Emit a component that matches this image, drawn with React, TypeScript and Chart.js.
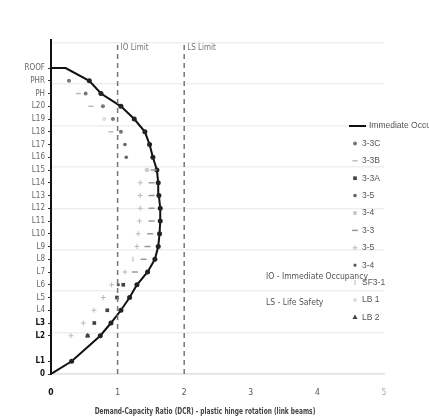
import React, { useEffect, useRef } from 'react';
import { Chart, registerables } from 'chart.js';
import { drawPoint } from 'chart.js/helpers';

Chart.register(...registerables);

// ---------- data ----------
const storyLabels = ['0', 'L1', 'L2', 'L3', 'L4', 'L5', 'L6', 'L7', 'L8', 'L9', 'L10', 'L11', 'L12', 'L13', 'L14', 'L15', 'L16', 'L17', 'L18', 'L19', 'L20', 'PH', 'PHR', 'ROOF'];
const storyHeights = [0, 1, 3, 4, 5, 6, 7, 8, 9, 10, 11, 12, 13, 14, 15, 16, 17, 18, 19, 20, 21, 22, 23, 24];
const gridLevels = [0, 3.25, 6.5, 9.75, 13, 16.25, 19.5, 22.75, 26];
const xTicks = [0, 1, 2, 3, 4, 5];

const limitValues = [1, 2];
const limitLabels = ['IO Limit', 'LS Limit'];
const noteLabels = ['IO - Immediate Occupancy', 'LS - Life Safety'];
const xTitle = 'Demand-Capacity Ratio (DCR) - plastic hinge rotation (link beams)';

const envelopeName = 'Immediate Occupancy';
const envelopeDCR = [0, 0.31, 0.74, 0.9, 1.05, 1.18, 1.29, 1.45, 1.56, 1.61, 1.63, 1.64, 1.64, 1.62, 1.61, 1.59, 1.53, 1.48, 1.41, 1.25, 1.05, 0.75, 0.575, 0.22];
const envelopeRoofStart = 0;

const n = null;
//                 0  L1 L2    L3     L4     L5    L6     L7    L8    L9    L10   L11   L12   L13   L14   L15   L16   L17   L18   L19   L20   PH    PHR   ROOF
const s33C =      [n, n, n,    n,     n,     n,    n,     n,    n,    n,    n,    n,    n,    n,    n,    n,    n,    n,    1.05, 0.93, 0.78, 0.52, 0.27, n];
const s33B =      [n, n, n,    n,     n,     n,    n,     n,    n,    n,    n,    n,    n,    n,    n,    n,    n,    n,    0.9,  n,    0.6,  0.41, n,    n];
const s33A =      [n, n, 0.55, 0.65,  0.845, 0.99, 1.085, n,    n,    n,    n,    n,    n,    n,    n,    n,    n,    n,    n,    n,    n,    n,    n,    n];
const s35a =      [n, n, n,    n,     n,     n,    n,     n,    n,    n,    n,    n,    n,    n,    n,    n,    1.13, 1.11, n,    n,    n,    n,    n,    n];
const s34a =      [n, n, n,    n,     n,     n,    n,     n,    n,    n,    n,    n,    n,    n,    n,    1.44, n,    n,    n,    n,    n,    n,    n,    n];
const s33 =       [n, n, n,    n,     n,     n,    n,     1.26, 1.39, 1.45, 1.49, 1.51, 1.51, 1.51, 1.51, 1.54, n,    n,    n,    n,    n,    n,    n,    n];
const s35b =      [n, n, 0.3,  0.485, 0.645, 0.785, 0.91, 1.11, n,    1.29, 1.31, 1.33, 1.34, 1.34, 1.34, n,    n,    n,    n,    n,    n,    n,    n,    n];
const s34b =      [n, n, n,    n,     n,     n,    1.01,  n,    n,    n,    n,    n,    n,    n,    n,    n,    n,    n,    n,    n,    n,    n,    n,    n];
const sSF31 =     [n, n, n,    n,     n,     n,    n,     n,    1.23, n,    n,    n,    n,    n,    n,    n,    n,    n,    n,    n,    n,    n,    n,    n];
const sLB1 =      [n, n, n,    n,     n,     n,    n,     n,    n,    n,    n,    n,    n,    n,    n,    n,    n,    n,    n,    0.8,  n,    n,    n,    n];
const sLB2 =      [n, n, 0.55, n,     n,     n,    n,     n,    n,    n,    n,    n,    n,    n,    n,    n,    n,    n,    n,    n,    n,    n,    n,    n];

const seriesNames = ['3-3C', '3-3B', '3-3A', '3-5', '3-4', '3-3', '3-5', '3-4', 'SF3-1', 'LB 1', 'LB 2'];
const seriesValues = [s33C, s33B, s33A, s35a, s34a, s33, s35b, s34b, sSF31, sLB1, sLB2];

// ---------- styles ----------
const FONT = '"Liberation Sans Narrow", "DejaVu Sans Condensed", "Liberation Sans", sans-serif';
const LEGEND_FONT = '"Liberation Sans", "DejaVu Sans", sans-serif';
const seriesStyles = [
  { pointStyle: 'circle', radius: 2, color: '#777', borderWidth: 0, rotation: 0 },
  { pointStyle: 'line', radius: 2.5, color: '#bbb', borderWidth: 1.5, rotation: 0 },
  { pointStyle: 'rect', radius: 2.6, color: '#444', borderWidth: 0, rotation: 0 },
  { pointStyle: 'circle', radius: 1.8, color: '#666', borderWidth: 0, rotation: 0 },
  { pointStyle: 'circle', radius: 2.2, color: '#ccc', borderWidth: 0, rotation: 0 },
  { pointStyle: 'line', radius: 3, color: '#999', borderWidth: 1.5, rotation: 0 },
  { pointStyle: 'cross', radius: 2.5, color: '#bbb', borderWidth: 1, rotation: 0 },
  { pointStyle: 'rect', radius: 2, color: '#555', borderWidth: 0, rotation: 0 },
  { pointStyle: 'line', radius: 2.5, color: '#ccc', borderWidth: 1.5, rotation: 90 },
  { pointStyle: 'circle', radius: 2, color: '#ddd', borderWidth: 0, rotation: 0 },
  { pointStyle: 'triangle', radius: 3, color: '#444', borderWidth: 0, rotation: 0 },
];

const toPoints = (vals: (number | null)[]) =>
  vals
    .map((v, i) => (v === null ? null : { x: v, y: storyHeights[i] }))
    .filter((p) => p !== null) as { x: number; y: number }[];

const overlayPlugin = {
  id: 'overlay',
  afterDraw(chart: any) {
    const { ctx, chartArea, scales } = chart;
    const xs = scales.x;
    ctx.save();
    ctx.textBaseline = 'middle';
    ctx.textAlign = 'left';
    // limit labels
    ctx.font = `8px ${FONT}`;
    ctx.fillStyle = '#777';
    limitValues.forEach((v, i) => {
      ctx.fillText(limitLabels[i], xs.getPixelForValue(v) + 3, chartArea.top + 8);
    });
    // notes
    ctx.fillStyle = '#555';
    ctx.font = `8.5px ${FONT}`;
    ctx.fillText(noteLabels[0], chartArea.left + 215, chartArea.bottom - 97);
    ctx.fillText(noteLabels[1], chartArea.left + 215, chartArea.bottom - 71);
    // x title (condensed)
    ctx.save();
    ctx.font = `bold 8.5px ${FONT}`;
    ctx.fillStyle = '#444';
    ctx.textAlign = 'center';
    ctx.translate(205, 412);
    ctx.scale(0.77, 1);
    ctx.fillText(xTitle, 0, 0);
    ctx.restore();
    // legend
    ctx.textAlign = 'left';
    ctx.font = `8.5px ${LEGEND_FONT}`;
    const lx = chartArea.right - 29;
    let ly = 126;
    const step = 17.4;
    ctx.strokeStyle = '#111';
    ctx.lineWidth = 2;
    ctx.beginPath();
    ctx.moveTo(lx - 6, ly);
    ctx.lineTo(lx + 11, ly);
    ctx.stroke();
    ctx.fillStyle = '#555';
    ctx.fillText(envelopeName, lx + 14, ly);
    seriesNames.forEach((name, i) => {
      ly += step;
      const st = seriesStyles[i];
      ctx.fillStyle = st.color;
      ctx.strokeStyle = st.color;
      ctx.lineWidth = st.borderWidth || 1;
      drawPoint(ctx, { pointStyle: st.pointStyle as any, radius: st.radius, rotation: st.rotation, borderWidth: st.borderWidth }, lx, ly);
      ctx.fillStyle = '#555';
      ctx.fillText(name, lx + 7, ly);
    });
    ctx.restore();
  },
};

export default function App() {
  const ref = useRef<HTMLCanvasElement>(null);
  useEffect(() => {
    const envPoints = [...toPoints(envelopeDCR), { x: envelopeRoofStart, y: storyHeights[storyHeights.length - 1] }];
    const envRadius = envPoints.map((_, i) => (i === 0 || i >= envPoints.length - 2 ? 0 : 2.5));
    const datasets: any[] = [];
    limitValues.forEach((v) => {
      datasets.push({
        data: [{ x: v, y: 0 }, { x: v, y: 26 }],
        showLine: true,
        borderColor: '#777',
        borderWidth: 1.5,
        borderDash: [5, 4],
        pointRadius: 0,
      });
    });
    seriesValues.forEach((vals, i) => {
      const st = seriesStyles[i];
      datasets.push({
        label: seriesNames[i],
        data: toPoints(vals),
        showLine: false,
        pointStyle: st.pointStyle,
        pointRadius: st.radius,
        pointRotation: st.rotation,
        pointBackgroundColor: st.color,
        pointBorderColor: st.color,
        pointBorderWidth: st.borderWidth,
      });
    });
    datasets.push({
      label: envelopeName,
      data: envPoints,
      showLine: true,
      borderColor: '#111',
      borderWidth: 2,
      pointRadius: envRadius,
      pointBackgroundColor: '#222',
      pointBorderColor: '#222',
      pointBorderWidth: 0,
    });

    const chart = new Chart(ref.current!, {
      type: 'scatter',
      data: { datasets },
      options: {
        responsive: false,
        animation: false,
        devicePixelRatio: 1,
        layout: { padding: { top: 40, right: 45, left: 0, bottom: 0 } },
        plugins: { legend: { display: false }, tooltip: { enabled: false } },
        scales: {
          x: {
            type: 'linear',
            min: 0,
            max: 5,
            afterBuildTicks: (s: any) => {
              s.ticks = xTicks.map((v) => ({ value: v }));
            },
            afterFit: (s: any) => {
              s.height = 46;
            },
            grid: { display: false, drawTicks: false },
            border: { display: true, color: '#e2e2e2', width: 1.5 },
            ticks: {
              padding: 14,
              font: (c: any) => ({ family: FONT, size: 8.5, weight: c.index === 0 ? 'bold' : 'normal' }),
              color: (c: any) => (c.index === 0 ? '#111' : c.index >= 5 ? '#aaa' : '#555'),
            },
          },
          y: {
            type: 'linear',
            position: 'left',
            min: 0,
            max: 26.2,
            afterBuildTicks: (s: any) => {
              s.ticks = storyHeights.map((v) => ({ value: v }));
            },
            afterFit: (s: any) => {
              s.width = 51;
            },
            grid: { drawOnChartArea: false, drawTicks: true, tickLength: 3, color: '#333' },
            border: { display: true, color: '#111', width: 2 },
            ticks: {
              autoSkip: false,
              padding: 3,
              callback: (v: any) => storyLabels[storyHeights.indexOf(Number(v))],
              font: (c: any) => ({ family: FONT, size: 8, weight: c.index <= 3 ? 'bold' : 'normal' }),
              color: (c: any) => (c.index <= 3 ? '#111' : '#666'),
            },
          },
          yGrid: {
            type: 'linear',
            position: 'left',
            min: 0,
            max: 26.2,
            afterBuildTicks: (s: any) => {
              s.ticks = gridLevels.map((v) => ({ value: v }));
            },
            afterFit: (s: any) => {
              s.width = 0;
            },
            grid: { color: '#efefef', lineWidth: 1.5, drawTicks: false },
            border: { display: false },
            ticks: { display: false },
          },
        },
      },
      plugins: [overlayPlugin],
    });
    return () => chart.destroy();
  }, []);
  return (
    <div style={{ position: 'absolute', left: 0, top: 0, width: 429, height: 420, overflow: 'hidden', background: '#fff' }}>
      <canvas ref={ref} width={429} height={420} style={{ display: 'block' }} />
    </div>
  );
}
